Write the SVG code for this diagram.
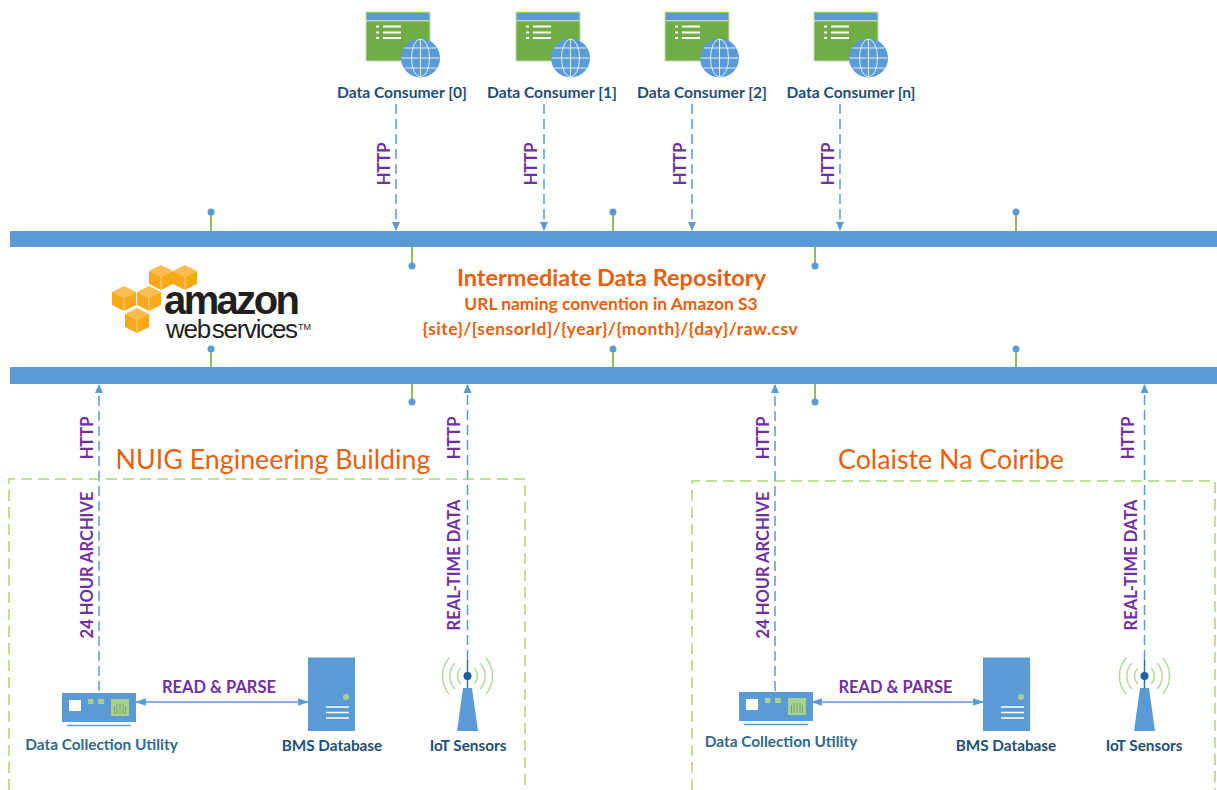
<svg xmlns="http://www.w3.org/2000/svg" xmlns:xlink="http://www.w3.org/1999/xlink" width="1217" height="790" viewBox="0 0 1217 790">
<style>
text{font-family:Lato,"Liberation Sans",sans-serif;font-weight:700}
.n{font-size:15.600px;fill:#1f4e79;text-anchor:middle}
.m{font-size:15.300px;fill:#1f4e79;text-anchor:middle}
.nb{font-size:15.400px;fill:#2e6a8e;text-anchor:middle}
.p{font-size:16.500px;fill:#7030a0;text-anchor:middle}
.o{fill:#e8600c;text-anchor:middle}
.t{font-weight:400;font-size:26.800px;fill:#e8600c;text-anchor:middle}
.bar{fill:#5b9bd5}
.stub{stroke:#8cc152;stroke-width:2;fill:none}
.dot{fill:#5b9bd5}
.d{stroke:#5b9bd5;stroke-width:1.500;stroke-dasharray:10 5;fill:none}
.s{stroke:#5b9bd5;stroke-width:1.500;fill:none}
.box{stroke:#a9d66f;stroke-width:1.500;stroke-dasharray:11 6;fill:none}
.g{stroke:#b5d99c;fill:none;stroke-width:1.500}
</style>
<defs>
<marker id="ah" viewBox="0 0 10 10" refX="9" refY="5" markerWidth="9" markerHeight="9" orient="auto-start-reverse" markerUnits="userSpaceOnUse"><path d="M0 0.500L10 5L0 9.500Z" fill="#5b9bd5"/></marker>
<marker id="ahb" viewBox="0 0 10 10" refX="9" refY="5" markerWidth="11" markerHeight="11" orient="auto-start-reverse" markerUnits="userSpaceOnUse"><path d="M0 1.500L10 5L0 8.500Z" fill="#5b9bd5"/></marker>
<g id="consumer">
<rect x="366" y="12" width="64" height="49" fill="#70ad47" stroke="#c5e0b4"/>
<rect x="367" y="13" width="62" height="7.500" fill="#5b9bd5"/>
<path d="M366.500 20.800H429.500" stroke="#e2f0d9" stroke-width="1"/>
<path d="M376 26.500h3M376 32.500h3M376 38h3M383 26.500h18M383 32.500h18M383 38h18" stroke="#fff" stroke-width="2" fill="none"/>
<circle cx="420.500" cy="58" r="19.500" fill="#5b9bd5"/>
<g stroke="#e4eef8" stroke-width="1" fill="none"><ellipse cx="420.500" cy="58" rx="9" ry="19"/><path d="M420.500 39V77M401.500 58H439.500M404.500 48H436.500M404.500 68H436.500"/></g>
</g>
<g id="server">
<rect x="308" y="657.500" width="47" height="73.500" fill="#5b9bd5"/>
<circle cx="346" cy="697" r="3" fill="#a9d18e"/>
<path d="M326 707h23M326 712.500h23M326 718h23" stroke="#fff" stroke-width="1.500"/>
</g>
<g id="tower">
<path d="M457 731L463 688H472L478 731Z" fill="#5b9bd5"/>
<path d="M467.500 660V688" stroke="#2f6ea8" stroke-width="1.500"/>
<circle cx="467.500" cy="676" r="4" fill="#1f5f9e"/>
<path d="M461 668a11 11 0 0 0 0 16M474 668a11 11 0 0 1 0 16M455 663a19 19 0 0 0 0 26M480 663a19 19 0 0 1 0 26M449 658a28 28 0 0 0 0 36M486 658a28 28 0 0 1 0 36" class="g"/>
</g>
<g id="util">
<rect x="62" y="693" width="74" height="29" fill="#5b9bd5"/>
<rect x="69" y="700" width="12" height="11" fill="#fff"/>
<rect x="88" y="699" width="5.500" height="5" fill="#a9d18e"/><rect x="98" y="699" width="6" height="5" fill="#a9d18e"/>
<rect x="111" y="699" width="18" height="17" fill="#a9d18e"/>
<path d="M114.500 706v8M117 704v10M120 704v10M123 704v10M125.500 706v8" stroke="#7f9f68" stroke-width="1"/>
<path d="M67 725.500H131" stroke="#5b9bd5" stroke-width="1.500"/>
</g>
<g id="cube"><path d="M0 6L12 0L24 6L12 12Z" fill="#f9bd52"/><path d="M0 6L12 12V25L0 19Z" fill="#f7a81b"/><path d="M24 6L12 12V25L24 19Z" fill="#f9a818"/><path d="M12 12V25" stroke="#fff" stroke-width="0.500"/></g>
</defs>

<g id="connectors">
<path class="d" d="M396 104V230" marker-end="url(#ah)"/>
<path class="d" d="M544 104V230" marker-end="url(#ah)"/>
<path class="d" d="M692 104V230" marker-end="url(#ah)"/>
<path class="d" d="M840 104V230" marker-end="url(#ah)"/>
<path class="d" d="M99 691V385" marker-end="url(#ah)"/>
<path class="d" d="M467.500 660V385" marker-end="url(#ah)"/>
<path class="d" d="M775 691V385" marker-end="url(#ah)"/>
<path class="d" d="M1144.500 660V385" marker-end="url(#ah)"/>
<path class="s" d="M136 702H308" marker-start="url(#ahb)" marker-end="url(#ahb)"/>
<path class="s" d="M812 702H983" marker-start="url(#ahb)" marker-end="url(#ahb)"/>
</g>

<g id="bus-top">
<rect class="bar" x="10" y="231" width="1207" height="16"/>
<path class="stub" d="M211 213V231M613 213V231M1016 213V231M412 247V266M815 247V266"/>
<circle class="dot" cx="211" cy="212" r="3.500"/><circle class="dot" cx="613" cy="212" r="3.500"/><circle class="dot" cx="1016" cy="212" r="3.500"/><circle class="dot" cx="412" cy="266" r="3.500"/><circle class="dot" cx="815" cy="266" r="3.500"/>
</g>
<g id="bus-bottom">
<rect class="bar" x="10" y="367" width="1207" height="17"/>
<path class="stub" d="M211 349V367M613 349V367M1016 349V367M412 384V402M815 384V402"/>
<circle class="dot" cx="211" cy="349" r="3.500"/><circle class="dot" cx="613" cy="349" r="3.500"/><circle class="dot" cx="1016" cy="349" r="3.500"/><circle class="dot" cx="412" cy="402" r="3.500"/><circle class="dot" cx="815" cy="402" r="3.500"/>
</g>

<g id="consumer-0"><use xlink:href="#consumer"/><text class="n" x="402" y="98">Data Consumer [0]</text></g>
<g id="consumer-1"><use xlink:href="#consumer" x="150"/><text class="n" x="552" y="98">Data Consumer [1]</text></g>
<g id="consumer-2"><use xlink:href="#consumer" x="299"/><text class="n" x="702" y="98">Data Consumer [2]</text></g>
<g id="consumer-n"><use xlink:href="#consumer" x="448"/><text class="n" x="851" y="98">Data Consumer [n]</text></g>

<g id="labels-http">
<text class="p" transform="translate(390,164) rotate(-90)">HTTP</text>
<text class="p" transform="translate(537,164) rotate(-90)">HTTP</text>
<text class="p" transform="translate(686,164) rotate(-90)">HTTP</text>
<text class="p" transform="translate(834,164) rotate(-90)">HTTP</text>
<text class="p" transform="translate(93,438) rotate(-90)">HTTP</text>
<text class="p" transform="translate(460,438) rotate(-90)">HTTP</text>
<text class="p" transform="translate(769,438) rotate(-90)">HTTP</text>
<text class="p" transform="translate(1134,438) rotate(-90)">HTTP</text>
<text class="p" transform="translate(93,565) rotate(-90)">24 HOUR ARCHIVE</text>
<text class="p" transform="translate(460,565) rotate(-90)">REAL-TIME DATA</text>
<text class="p" transform="translate(769,565) rotate(-90)">24 HOUR ARCHIVE</text>
<text class="p" transform="translate(1137,565) rotate(-90)">REAL-TIME DATA</text>
<text class="p" x="219" y="693">READ &amp; PARSE</text>
<text class="p" x="895.500" y="693">READ &amp; PARSE</text>
</g>

<g id="aws-logo">
<use xlink:href="#cube" x="149" y="265"/><use xlink:href="#cube" x="173" y="265"/>
<use xlink:href="#cube" x="112" y="286"/><use xlink:href="#cube" x="137" y="286"/><use xlink:href="#cube" x="125" y="308"/>
<text x="164" y="314" style="font-family:'Liberation Sans',sans-serif;font-weight:700;font-size:40px;letter-spacing:-2.600px" fill="#231f20">amazon</text>
<text x="166" y="338" style="font-family:'Liberation Sans',sans-serif;font-weight:400;font-size:26px;letter-spacing:-1.300px" fill="#231f20">web<tspan dx="2">services</tspan></text>
<text x="298" y="330" style="font-family:'Liberation Sans',sans-serif;font-weight:400;font-size:9px" fill="#231f20">TM</text>
</g>

<g id="repository">
<text class="o" x="611.500" y="286" font-size="23.500">Intermediate Data Repository</text>
<text class="o" x="611" y="310" font-size="17.400">URL naming convention in Amazon S3</text>
<text class="o" x="610.500" y="335" font-size="17.400" letter-spacing="0.500">{site}/[sensorId]/{year}/{month}/{day}/raw.csv</text>
</g>

<g id="site-nuig">
<path class="box" d="M9 790V479H525V790"/>
<text class="t" x="273" y="469">NUIG Engineering Building</text>
</g>
<g id="site-colaiste">
<path class="box" d="M692 790V481H1215V790"/>
<text class="t" x="951" y="469">Colaiste Na Coiribe</text>
</g>

<g id="util-1"><use xlink:href="#util"/><text class="nb" x="101.500" y="750">Data Collection Utility</text></g>
<g id="bms-1"><use xlink:href="#server"/><text class="m" x="332" y="751">BMS Database</text></g>
<g id="iot-1"><use xlink:href="#tower"/><text class="m" x="468" y="751">IoT Sensors</text></g>
<g id="util-2"><use xlink:href="#util" x="677" y="-1"/><text class="nb" x="781" y="747">Data Collection Utility</text></g>
<g id="bms-2"><use xlink:href="#server" x="675"/><text class="m" x="1006" y="751">BMS Database</text></g>
<g id="iot-2"><use xlink:href="#tower" x="677"/><text class="m" x="1144" y="751">IoT Sensors</text></g>
</svg>
